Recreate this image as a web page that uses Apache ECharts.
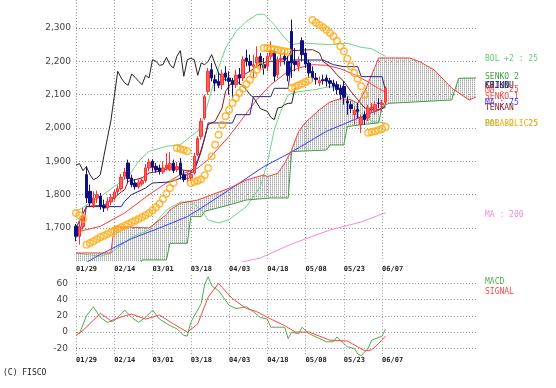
<!DOCTYPE html>
<html><head><meta charset="utf-8">
<script src="https://cdn.jsdelivr.net/npm/echarts@6/dist/echarts.min.js"></script>
<style>html,body{margin:0;padding:0;background:#fff}#c{width:556px;height:388px}</style>
</head><body><div id="c"></div>
<script>
// ---- categories / ticks ----
const dates = ['01/29','01/30','01/31','02/01','02/04','02/05','02/06','02/07','02/08','02/12',
'02/13','02/14','02/15','02/18','02/19','02/20','02/21','02/22','02/25','02/26',
'02/27','02/28','03/01','03/04','03/05','03/06','03/07','03/08','03/11','03/12',
'03/13','03/14','03/15','03/18','03/19','03/21','03/22','03/25','03/26','03/27',
'03/28','03/29','04/01','04/02','04/03','04/04','04/05','04/08','04/09','04/10',
'04/11','04/12','04/15','04/16','04/17','04/18','04/19','04/22','04/23','04/24',
'04/25','04/26','04/30','05/01','05/02','05/07','05/08','05/09','05/10','05/13',
'05/14','05/15','05/16','05/17','05/20','05/21','05/22','05/23','05/24','05/27',
'05/28','05/29','05/30','05/31','06/03','06/04','06/05','06/06','06/07','06/10'];
const futureDays = 26;
const tickLabels = ['01/29','02/14','03/01','03/18','04/03','04/18','05/08','05/23','06/07'];
const chikouShift = 26;

// ---- candles ----
const opens = [1705,1675,1705,1860,1810,1770,1790,1795,1768,1760,
1778,1790,1808,1818,1855,1895,1850,1835,1824,1832,
1842,1880,1900,1885,1880,1868,1880,1875,1895,1875,
1895,1860,1848,1850,1865,1920,1975,2030,2110,2175,
2145,2140,2130,2165,2150,2140,2130,2160,2150,2210,
2200,2185,2195,2215,2190,2185,2215,2230,2160,2205,
2215,2200,2290,2200,2185,2262,2225,2195,2170,2150,
2135,2145,2150,2142,2135,2130,2120,2125,2080,2070,
2040,2055,2010,2040,2030,2060,2050,2075,2070,2078];
const closes = [1675,1705,1735,1790,1775,1790,1800,1765,1760,1780,
1792,1808,1818,1852,1868,1848,1830,1824,1836,1842,
1880,1898,1882,1874,1870,1880,1889,1893,1872,1884,
1860,1845,1850,1860,1915,1968,2020,2094,2170,2150,
2135,2128,2162,2152,2140,2130,2158,2150,2205,2200,
2188,2190,2212,2190,2180,2215,2232,2155,2205,2209,
2205,2158,2195,2190,2200,2220,2192,2165,2150,2145,
2142,2142,2140,2134,2125,2115,2100,2092,2075,2058,
2054,2050,2032,2025,2060,2062,2070,2074,2074,2120];
const lows = [1660,1650,1695,1775,1765,1760,1775,1755,1748,1752,
1768,1782,1798,1812,1845,1835,1822,1815,1818,1825,
1836,1870,1870,1866,1860,1862,1872,1870,1865,1868,
1845,1838,1835,1840,1860,1915,1965,2025,2100,2140,
2110,2120,2115,2140,2100,2090,2120,2130,2140,2185,
2170,2150,2180,2175,2160,2170,2205,2140,2150,2185,
2190,2140,2150,2170,2170,2200,2180,2150,2140,2130,
2125,2130,2125,2120,2110,2100,2085,2070,2040,2045,
2010,2030,1985,2010,2020,2045,2040,2060,2050,2070];
const highs = [1712,1718,1760,1885,1830,1810,1812,1805,1785,1792,
1802,1815,1828,1862,1880,1905,1860,1846,1846,1852,
1892,1908,1906,1895,1890,1900,1925,1928,1905,1898,
1910,1872,1866,1875,1925,1975,2030,2100,2180,2195,
2160,2165,2175,2185,2170,2150,2175,2180,2215,2235,
2220,2220,2245,2225,2210,2225,2260,2240,2215,2225,
2230,2215,2325,2240,2215,2272,2240,2205,2185,2165,
2155,2160,2160,2150,2145,2140,2130,2140,2095,2080,
2065,2075,2040,2050,2070,2075,2080,2090,2085,2125];

// ---- parabolic SAR (one per day) ----
const parabolic = [1745,1738,1728,1650,1655,1660,1666,1672,1677,1682,
1687,1692,1697,1702,1707,1712,1717,1722,1727,1732,
1738,1745,1753,1762,1773,1787,1803,1819,1835,1940,
1937,1934,1930,1835,1838,1842,1846,1858,1880,1915,
1950,1980,2010,2035,2055,2075,2090,2105,2118,2132,
2145,2160,2175,2185,2240,2240,2238,2236,2234,2232,
2230,2228,2120,2124,2128,2133,2138,2143,2324,2316,
2309,2302,2294,2285,2275,2262,2245,2230,2208,2185,
2165,2148,2125,2100,1986,1988,1990,1994,1998,2003];

// ---- lines: [dayIndex, value] ----
const bolUpper = [[0,1749],[7,1794],[11,1824],[15,1854],[18,1900],[21,1930],[26,1945],[30,1950],[33,1975],[35,1990],[37,2040],[40,2150],[43,2240],[46,2290],[49,2320],[52,2340],[54,2342],[57,2310],[60,2270],[62,2250],[65,2255],[73,2250],[78,2254],[82,2242],[85,2238],[88,2220],[89,2215]];
const bolLower = [[0,1625],[7,1615],[10,1625],[16,1673],[21,1694],[26,1754],[30,1778],[33,1779],[36,1754],[38,1724],[41,1715],[44,1725],[49,1764],[53,1824],[55,1894],[57,1994],[59,2054],[61,2100],[64,2109],[68,2114],[73,2124],[77,2115],[79,2084],[82,2044],[85,2020],[89,2015]];
const ma25 = [[0,1687],[7,1705],[14,1745],[21,1800],[26,1835],[30,1860],[35,1880],[38,1905],[41,1940],[44,1975],[48,2030],[52,2085],[56,2130],[60,2162],[64,2180],[68,2190],[72,2188],[76,2178],[80,2160],[84,2138],[87,2118],[89,2108]];
const ma75 = [[0,1578],[6,1615],[16,1668],[24,1700],[32,1734],[36,1760],[44,1814],[54,1884],[62,1928],[72,1990],[80,2025],[87,2054],[89,2062]];
const ma200 = [[44,1588],[47,1596],[53,1610],[62,1652],[73,1694],[82,1718],[87,1738],[89,1745]];
const tenkan = [[0,1690],[2,1700],[3,1765],[8,1768],[11,1790],[13,1808],[14,1815],[15,1840],[19,1850],[21,1865],[24,1870],[27,1880],[30,1875],[33,1870],[34,1880],[35,1905],[36,1935],[37,1970],[38,2010],[40,2020],[41,2040],[42,2060],[43,2110],[45,2140],[48,2158],[50,2170],[52,2185],[55,2200],[60,2200],[62,2232],[68,2235],[70,2225],[71,2200],[73,2185],[75,2160],[77,2140],[79,2110],[81,2085],[83,2060],[85,2055],[87,2055],[89,2065]];
const kijun = [[0,1700],[3,1764],[13,1764],[14,1780],[16,1800],[20,1820],[22,1835],[27,1838],[29,1845],[31,1855],[34,1870],[35,1900],[36,1930],[37,1970],[38,2015],[45,2015],[46,2040],[50,2040],[51,2094],[56,2094],[57,2119],[61,2119],[62,2204],[71,2204],[74,2190],[77,2184],[81,2184],[82,2154],[88,2154],[89,2110]];
const senko1 = [[0,1625],[10,1625],[11,1704],[21,1700],[26,1740],[27,1754],[30,1774],[35,1784],[44,1819],[49,1844],[54,1859],[55,1854],[58,1864],[60,1894],[62,1934],[64,1990],[66,2017],[70,2055],[73,2078],[76,2088],[79,2085],[81,2074],[83,2110],[85,2160],[86,2184],[87,2210],[96,2210],[99,2198],[103,2174],[108,2120],[113,2084],[115,2093]];
const senko2 = [[0,1560],[18,1580],[19,1604],[26,1604],[27,1654],[32,1654],[33,1734],[36,1734],[37,1750],[44,1769],[49,1784],[56,1790],[61,1790],[62,1929],[72,1934],[73,1949],[77,1949],[78,2004],[82,2010],[87,2015],[88,2064],[90,2074],[108,2084],[110,2149],[115,2150]];

// ---- MACD pane ----
const macd = [[0,0],[1,-2],[3,20],[5,31],[7,18],[9,12],[11,14],[14,27],[16,18],[18,12],[20,18],[22,27],[24,16],[27,8],[29,4],[31,-4],[32,-5],[33,12],[36,35],[37,59],[38,68],[39,57],[41,51],[44,33],[46,29],[49,31],[51,25],[53,18],[55,16],[56,6],[58,6],[60,6],[61,-8],[62,0],[64,-2],[65,6],[67,-2],[69,-6],[72,-12],[74,-12],[75,-6],[76,-10],[78,-18],[80,-20],[81,-27],[82,-29],[84,-20],[85,-10],[88,-5],[89,4]];
const signal = [[0,-4],[2,2],[7,23],[10,14],[14,20],[16,22],[20,16],[24,21],[28,10],[32,0],[35,10],[38,43],[41,60],[42,55],[45,41],[49,29],[52,25],[56,16],[59,10],[60,8],[63,0],[67,0],[73,-10],[78,-11],[83,-23],[85,-22],[87,-14],[89,-5]];

// ---------------------------------------------------------------
const cats = dates.concat(Array.from({length: futureDays}, (_, i) => '+' + (i + 1)));
const tickSet = new Set(tickLabels);
const isTick = (i) => tickSet.has(cats[i]);
const candleData = opens.map((o, i) => [o, closes[i], lows[i], highs[i]]);
const chikou = closes.slice(chikouShift).map((c, i) => [i, c]);
const parData = parabolic.map((v, i) => [i, v]);

const pc = document.createElement('canvas'); pc.width = 2; pc.height = 2;
const g = pc.getContext('2d');
g.fillStyle = '#a8a8a8'; g.fillRect(0, 0, 1, 1);
g.fillStyle = '#d0d0d0'; g.fillRect(0, 1, 1, 1);

const dotted = {color: '#9a9a9a', type: [1, 2], width: 1};
const xAxisBase = (gi, margin) => ({
  type: 'category', gridIndex: gi, data: cats, boundaryGap: false,
  axisLine: {show: false}, axisTick: {show: false},
  axisLabel: {interval: (i) => isTick(i), align: 'left', margin: margin,
    fontFamily: 'DejaVu Sans Mono', fontSize: 7, fontWeight: 'bold', color: '#222'},
  splitLine: {show: true, interval: (i) => isTick(i), lineStyle: dotted}
});
const line = (data, color, extra) => Object.assign({
  type: 'line', data, symbol: 'none', silent: true, xAxisIndex: 0, yAxisIndex: 0,
  lineStyle: {color, width: 1}, z: 3
}, extra || {});

const chart = echarts.init(document.getElementById('c'));
chart.setOption({
  animation: false,
  backgroundColor: '#fff',
  grid: [
    {left: 76, top: 0, width: 400, height: 261.3},
    {left: 76, top: 275.2, width: 400, height: 81.25}
  ],
  xAxis: [xAxisBase(0, 4), xAxisBase(1, 0)],
  yAxis: [
    {type: 'value', gridIndex: 0, min: 1600, max: 2384, interval: 100,
      axisLine: {show: false}, axisTick: {show: false},
      axisLabel: {margin: 5, fontFamily: 'DejaVu Sans', fontSize: 9, color: '#444',
        formatter: (v) => (v > 1600 && v % 100 === 0) ? v.toLocaleString('en-US') : ''},
      splitLine: {show: true, showMinLine: false, showMaxLine: false, lineStyle: dotted}},
    {type: 'value', gridIndex: 1, min: -30, max: 70, interval: 10,
      axisLine: {show: false}, axisTick: {show: false},
      axisLabel: {margin: 8, fontFamily: 'DejaVu Sans', fontSize: 9, color: '#444',
        formatter: (v) => (v % 20 === 0 && v >= -20 && v <= 60) ? String(v) : ''},
      splitLine: {show: true, lineStyle: Object.assign({}, dotted, {color: ['rgba(0,0,0,0)', '#9a9a9a']})}}
  ],
  series: [
    {type: 'custom', xAxisIndex: 0, yAxisIndex: 0, data: [[0, 0]], z: 1, silent: true, clip: true,
      renderItem: (params, api) => {
        const pts = senko1.map(p => api.coord(p)).concat(senko2.slice().reverse().map(p => api.coord(p)));
        return {type: 'polygon', shape: {points: pts}, style: {fill: {image: pc, repeat: 'repeat'}, stroke: null}};
      }},
    line(bolUpper, '#6fd38a'),
    line(bolLower, '#6fd38a'),
    line(ma200, '#ff88cc'),
    line(ma75, '#3a3aff'),
    line(ma25, '#ff3a3a'),
    line(senko2, '#3f9f3f'),
    line(senko1, '#ff3a3a'),
    line(kijun, '#22228a'),
    line(tenkan, '#8a1a1a'),
    line(chikou, '#222222'),
    {type: 'candlestick', xAxisIndex: 0, yAxisIndex: 0, data: candleData, barWidth: 3, z: 4, silent: true,
      itemStyle: {color: '#ff6060', color0: '#101080', borderColor: '#ff3030', borderColor0: '#101080', borderWidth: 1}},
    {type: 'scatter', xAxisIndex: 0, yAxisIndex: 0, data: parData, symbol: 'circle', symbolSize: 6.5, z: 5, silent: true,
      itemStyle: {color: 'rgba(255,255,255,0)', borderColor: '#ffaa11', borderWidth: 1.5}},
    line(macd, '#55aa55', {xAxisIndex: 1, yAxisIndex: 1}),
    line(signal, '#ff4444', {xAxisIndex: 1, yAxisIndex: 1})
  ],
  graphic: [
    ['BOL +2 : 25', '#66cc77', 59.5],
    ['SENKO 2', '#3f9f3f', 78],
    ['CHIKOU', '#222222', 86.5],
    ['KIJUN', '#22228a', 86.5],
    ['MA : 25', '#ff3a3a', 91],
    ['SENKO 1', '#ff3a3a', 97.5],
    ['MA : 75', '#3a3aff', 103.5],
    ['TENKAN', '#8a1a1a', 108.5],
    ['BOL -2 : 25', '#66cc77', 125],
    ['PARABOLIC25', '#ffaa11', 125],
    ['MA : 200', '#ff88cc', 215.5],
    ['MACD', '#55aa55', 282.5],
    ['SIGNAL', '#ff4444', 292.5],
    ['(C) FISCO', '#222222', 374, 3]
  ].map(([t, c, y, x]) => ({type: 'text', left: x === undefined ? 485 : x, top: y - 5,
      style: {text: t, fill: c, font: '8px "DejaVu Sans Mono"'}}))
});
</script></body></html>
